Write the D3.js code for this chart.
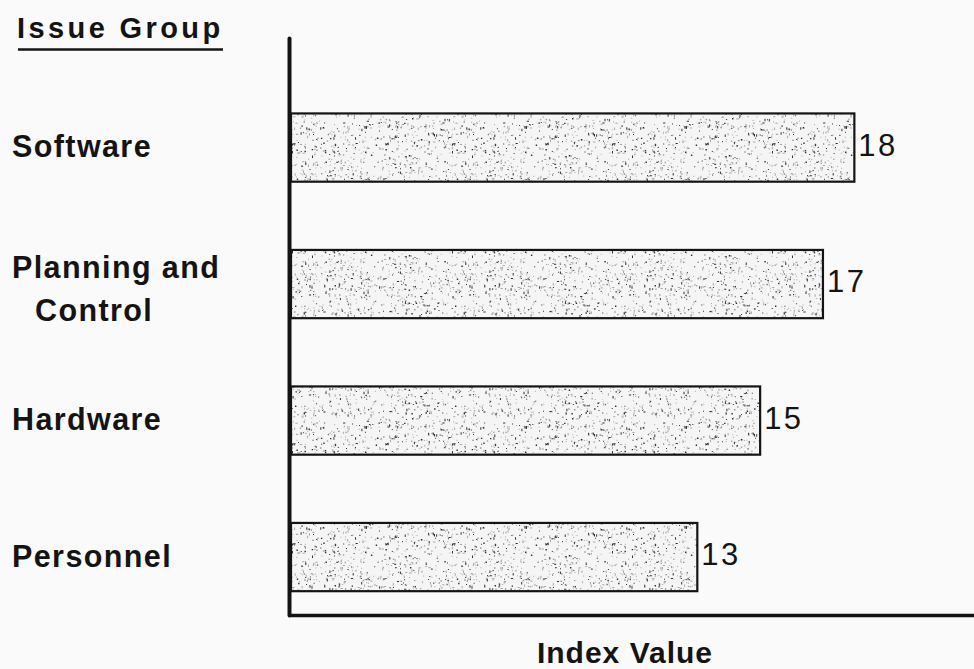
<!DOCTYPE html>
<html>
<head>
<meta charset="utf-8">
<script src="https://cdn.jsdelivr.net/npm/d3@7/dist/d3.min.js"></script>
<style>
  html, body { margin: 0; padding: 0; background: #fbfafa; }
  svg { display: block; }
  text { font-family: "Liberation Sans", Arial, Helvetica, sans-serif; font-weight: bold; fill: #141414; }
</style>
</head>
<body>
<div id="chart"></div>
<script>
// Issue groups, their index values, and the wrapped label lines
const categories = ["Software", "Planning and Control", "Hardware", "Personnel"];
const values = [18, 17, 15, 13];
const labelLines = [["Software"], ["Planning and", "Control"], ["Hardware"], ["Personnel"]];
const groupTitle = "Issue Group";
const axisTitle = "Index Value";
const xMax = 22;

const W = 974, H = 669;
const svg = d3.select("#chart").append("svg").attr("width", W).attr("height", H);
svg.append("rect").attr("width", W).attr("height", H).attr("fill", "#fbfafa");

// Stippled fill: a tile of small dark specks placed by a seeded generator
let seed = 12345;
const rnd = () => { seed = (seed * 1103515245 + 12345) % 2147483648; return seed / 2147483648; };
const tileW = 160, tileH = 100;
const defs = svg.append("defs");
const pat = defs.append("pattern").attr("id", "stipple").attr("patternUnits", "userSpaceOnUse")
  .attr("width", tileW).attr("height", tileH);
pat.append("rect").attr("width", tileW).attr("height", tileH).attr("fill", "#f6f5f5");
let darkD = "", midD = "";
for (let i = 0; i < 900; i++) {
  const px = (rnd() * tileW).toFixed(1), py = (rnd() * tileH).toFixed(1);
  const r = rnd();
  let w = 1, h = 1;
  if (r < 0.15) { w = 1; h = 2.5; } else if (r < 0.22) { w = 2.2; h = 1; } else if (r < 0.4) { w = 1.4; h = 1.4; }
  const d = `M${px},${py}h${w}v${h}h${-w}z`;
  if (rnd() < 0.4) darkD += d; else midD += d;
}
pat.append("path").attr("d", midD).attr("fill", "#a8a8a8");
pat.append("path").attr("d", darkD).attr("fill", "#303030");

// Scales
const x = d3.scaleLinear().domain([0, xMax]).range([289, 980]);
const y = d3.scaleBand().domain(categories).range([38, 615])
  .paddingInner(0.5).paddingOuter(0.3636).align(0.76);

// Axes: plain heavy lines, no ticks
const yAxis = svg.append("g").attr("transform", `translate(${x(0)},0)`)
  .call(d3.axisLeft(y).tickSize(0).tickFormat(""));
yAxis.select(".domain").attr("stroke", "#141414").attr("stroke-width", 4)
  .attr("stroke-linecap", "round");

const xAxis = svg.append("g").attr("transform", `translate(0,615)`)
  .call(d3.axisBottom(x).tickSize(0).tickFormat(""));
xAxis.select(".domain").attr("stroke", "#141414").attr("stroke-width", 3.5);

// Bars
svg.append("g").selectAll("rect").data(categories).join("rect")
  .attr("x", x(0) + 2)
  .attr("y", d => y(d))
  .attr("width", (d, i) => x(values[i]) - x(0) - 2)
  .attr("height", y.bandwidth())
  .attr("fill", "url(#stipple)")
  .attr("stroke", "#141414")
  .attr("stroke-width", 2.2);

// Value labels at bar ends
svg.append("g").selectAll("text").data(categories).join("text")
  .attr("x", (d, i) => x(values[i]) + 4)
  .attr("y", d => y(d) + y.bandwidth() / 2 + 8)
  .attr("font-size", 31)
  .attr("letter-spacing", 2.5)
  .style("font-weight", "normal")
  .text((d, i) => values[i]);

// Category labels
const lab = svg.append("g").selectAll("text").data(categories).join("text")
  .attr("font-size", 30.5)
  .attr("letter-spacing", 1.4);
lab.each(function(d, i) {
  const lines = labelLines[i];
  const cy = y(d) + y.bandwidth() / 2;
  d3.select(this).selectAll("tspan").data(lines).join("tspan")
    .attr("x", (l, j) => j === 0 ? 12 : 35)
    .attr("y", (l, j) => cy + 9.5 + j * 43 - (lines.length - 1) * 16)
    .text(l => l);
});

// Group heading, underlined
svg.append("text").attr("x", 17).attr("y", 38)
  .attr("font-size", 29).attr("letter-spacing", 3.4).text(groupTitle);
svg.append("line").attr("x1", 18).attr("x2", 223).attr("y1", 49.5).attr("y2", 49.5)
  .attr("stroke", "#141414").attr("stroke-width", 2.5);

// Axis title
svg.append("text").attr("x", 625).attr("y", 663).attr("text-anchor", "middle")
  .attr("font-size", 30).attr("letter-spacing", 1).text(axisTitle);
</script>
</body>
</html>
